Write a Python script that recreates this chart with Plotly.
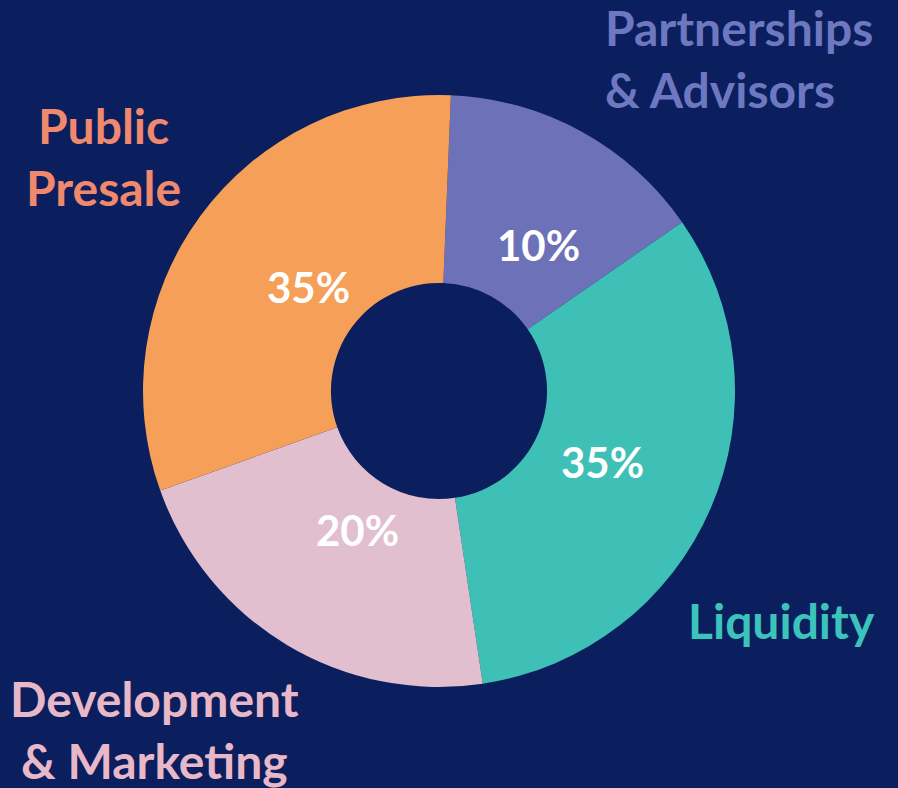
import plotly.graph_objects as go

# Data
categories = ["Partnerships & Advisors", "Liquidity", "Development & Marketing", "Public Presale"]
printed_pct = ["10%", "35%", "20%", "35%"]
arc_share = [14.7, 32.3, 21.9, 31.1]   # slice sizes as drawn in the picture
slice_colors = ["#6d72b8", "#3fc0b6", "#e2bfcf", "#f59f58"]
label_colors = ["#6e78c0", "#3cc4bc", "#e8b8c8", "#f0886e"]

W, H = 898, 788
BG = "#0b1f5e"
cx, cy, R = 439, 391, 296

fig = go.Figure(go.Pie(
    labels=categories,
    values=arc_share,
    sort=False,
    direction="clockwise",
    rotation=2.3,
    hole=0.365,
    marker=dict(colors=slice_colors, line=dict(width=0)),
    textinfo="none",
    hoverinfo="label",
    showlegend=False,
    domain=dict(x=[(cx - R) / W, (cx + R) / W], y=[(H - cy - R) / H, (H - cy + R) / H]),
))

FONT = "Lato"
ann = []
# percentage labels inside slices (pixel positions of text centers)
pct_pos = [(538, 245), (602, 462), (357, 530), (308, 287)]
for t, (x, y) in zip(printed_pct, pct_pos):
    ann.append(dict(x=x / W, y=1 - y / H, xref="paper", yref="paper", text=t, showarrow=False,
                    font=dict(family=FONT, size=42, color="white", weight="bold"),
                    xanchor="center", yanchor="middle"))

# category labels outside
outer = [
    ("Partnerships<br>& Advisors", 603, 58, "left", label_colors[0]),
    ("Liquidity", 686, 620, "left", label_colors[1]),
    ("Development<br>& Marketing", 154, 729, "center", label_colors[2]),
    ("Public<br>Presale", 103, 156, "center", label_colors[3]),
]
for t, x, y, al, c in outer:
    ann.append(dict(x=x / W, y=1 - y / H, xref="paper", yref="paper", text=t, showarrow=False,
                    align=al, xanchor=al if al != "center" else "center", yanchor="middle",
                    font=dict(family=FONT, size=48, color=c, weight="bold")))

fig.update_layout(
    width=W, height=H,
    margin=dict(l=0, r=0, t=0, b=0),
    paper_bgcolor=BG, plot_bgcolor=BG,
    annotations=ann,
)
fig.write_html("out.html")
